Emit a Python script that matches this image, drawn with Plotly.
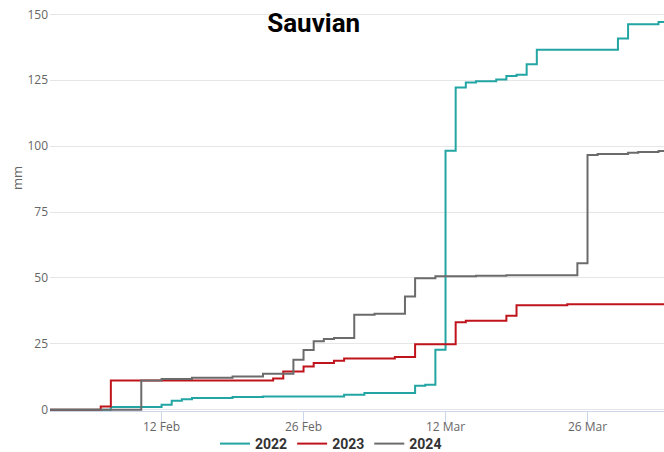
import plotly.graph_objects as go

# ---- data (cumulative rainfall, mm; dates mapped onto a common year) ----
dates_2022 = ["02-01", "02-07", "02-12", "02-13", "02-14", "02-15", "02-19", "02-22",
              "03-02", "03-04", "03-09", "03-10", "03-11", "03-12", "03-13", "03-14",
              "03-15", "03-17", "03-18", "03-19", "03-20", "03-21", "03-29", "03-30",
              "04-02", "04-03"]
mm_2022 = [0, 1.0, 1.9, 3.4, 4.0, 4.4, 4.8, 5.0,
           5.7, 6.3, 9.1, 9.5, 22.7, 98.2, 122.2, 124.1,
           124.6, 125.3, 126.6, 127.1, 131.1, 136.6, 140.8, 146.2,
           147.1, 147.1]

dates_2023 = ["02-01", "02-06", "02-07", "02-23", "02-24", "02-26", "02-27", "03-01",
              "03-02", "03-07", "03-09", "03-13", "03-14", "03-18", "03-19", "03-24",
              "04-03"]
mm_2023 = [0, 1.2, 11.1, 11.8, 14.5, 16.4, 17.7, 18.6,
           19.4, 20.0, 24.8, 33.2, 33.7, 35.6, 39.6, 40.0,
           40.2]

dates_2024 = ["02-01", "02-10", "02-12", "02-15", "02-19", "02-22", "02-25", "02-26",
              "02-27", "02-28", "03-01", "03-03", "03-05", "03-08", "03-09", "03-11",
              "03-15", "03-18", "03-25", "03-26", "03-27", "03-30", "03-31", "04-02",
              "04-03"]
mm_2024 = [0, 11.1, 11.6, 12.1, 12.6, 13.6, 18.9, 22.6,
           26.0, 26.8, 27.2, 36.0, 36.4, 42.9, 49.9, 50.6,
           50.8, 51.0, 55.6, 96.6, 97.0, 97.5, 97.8, 98.1,
           98.1]

series_names = ["2022", "2023", "2024"]
series_colors = ["#22a5a3", "#c0141c", "#6b6b6b"]

tick_dates = ["02-12", "02-26", "03-12", "03-26"]
tick_labels = ["12 Feb", "26 Feb", "12 Mar", "26 Mar"]

BASE_YEAR = "2023-"

fig = go.Figure()
for name, color, d, v in zip(series_names, series_colors,
                             [dates_2022, dates_2023, dates_2024],
                             [mm_2022, mm_2023, mm_2024]):
    fig.add_trace(go.Scatter(
        x=[BASE_YEAR + s for s in d], y=v, name=name, mode="lines",
        line=dict(color=color, width=2, shape="hv"),
    ))

fig.update_layout(
    width=664, height=452,
    margin=dict(l=50, r=0, t=13, b=41),
    paper_bgcolor="white", plot_bgcolor="white",
    title=dict(text="<b>Sauvian</b>", x=313.7 / 664, xanchor="center",
               xref="container", y=1 - 23 / 452, yref="container", yanchor="middle",
               font=dict(family="Roboto", size=26, color="#000000")),
    xaxis=dict(
        type="date",
        range=[BASE_YEAR + "02-01", BASE_YEAR + "04-02 13:00"],
        tickvals=[BASE_YEAR + s for s in tick_dates], ticktext=tick_labels,
        showgrid=False, zeroline=False,
        showline=True, linecolor="#ccd6eb", linewidth=1,
        ticks="outside", ticklen=10, tickcolor="#ccd6eb",
        tickfont=dict(family="Open Sans", size=12, color="#666666"),
        ticklabelstandoff=-5, automargin=False,
    ),
    yaxis=dict(
        range=[-0.5, 150.5], tickvals=[0, 25, 50, 75, 100, 125, 150],
        showgrid=True, gridcolor="#e6e6e6", gridwidth=1,
        zeroline=False, showline=False, ticks="",
        tickfont=dict(family="Open Sans", size=12, color="#666666"),
        ticklabelstandoff=1, automargin=False,
    ),
    legend=dict(orientation="h", xref="container", yref="container",
                x=331 / 664, xanchor="center", y=1 - 428 / 452, yanchor="top",
                font=dict(family="Roboto", size=14, color="#333333", weight="bold"),
                bgcolor="rgba(0,0,0,0)"),
    annotations=[dict(text="mm", xref="paper", yref="paper",
                      x=-33 / 614, y=(411 - 178) / 398, showarrow=False,
                      textangle=-90, xanchor="center", yanchor="middle",
                      font=dict(family="Open Sans", size=13, color="#666666"))],
)

fig.write_html("out.html", config={"displayModeBar": False},
               post_script="document.body.style.margin='0';document.body.style.overflow='hidden';")
